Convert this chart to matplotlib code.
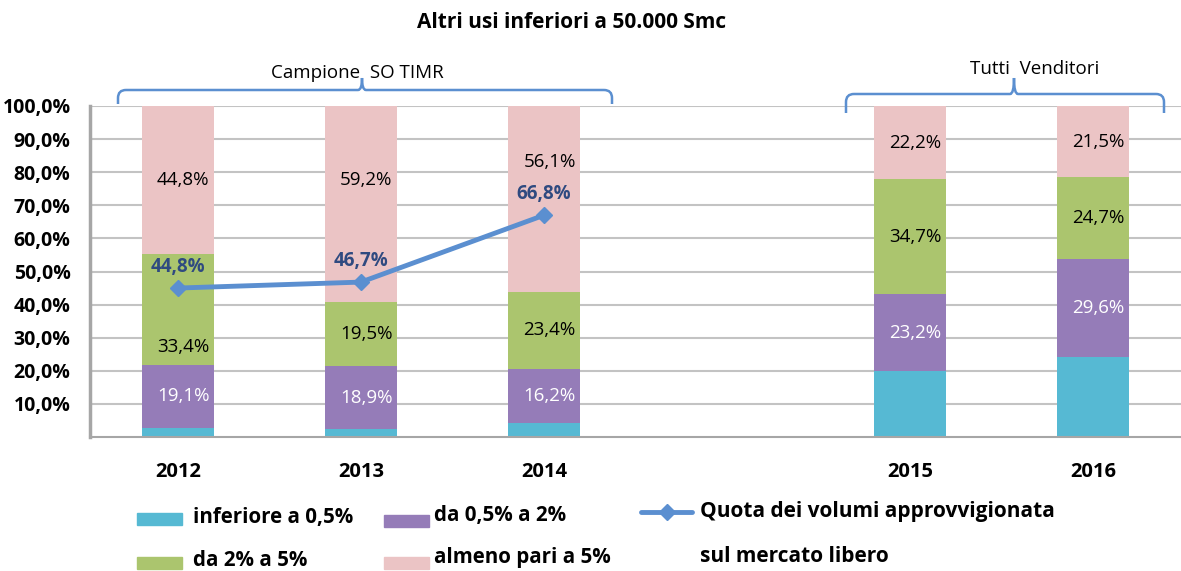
import numpy as np
import matplotlib
matplotlib.use("Agg")
import matplotlib.pyplot as plt
from matplotlib.patches import Rectangle, PathPatch
from matplotlib.path import Path
from matplotlib.lines import Line2D

plt.rcParams["font.family"] = ["Open Sans", "DejaVu Sans"]

# Data
years = ["2012", "2013", "2014", "2015", "2016"]
x_pos = [0, 1, 2, 4, 5]
below_05 = [2.7, 2.4, 4.3, 19.9, 24.2]
from_05_to_2 = [19.1, 18.9, 16.2, 23.2, 29.6]
from_2_to_5 = [33.4, 19.5, 23.4, 34.7, 24.7]
at_least_5 = [44.8, 59.2, 56.1, 22.2, 21.5]
quota_years = [0, 1, 2]
quota_libero = [44.8, 46.7, 66.8]
quota_plot = [45.0, 46.8, 67.0]

COLORS = {
    "cyan": "#56b9d3",
    "purple": "#957cb8",
    "green": "#abc56e",
    "pink": "#ebc4c5",
    "line": "#5b8fd0",
    "line_label": "#2f4a80",
    "grid": "#c3c3c3",
    "brace": "#5b8fd0",
}

W, H = 1181, 571
fig = plt.figure(figsize=(W / 100, H / 100), dpi=100)
ax = fig.add_axes([90 / W, 1 - 437 / H, 1 - 90 / W, (437 - 106) / H])

series = [
    (below_05, COLORS["cyan"], None),
    (from_05_to_2, COLORS["purple"], "white"),
    (from_2_to_5, COLORS["green"], "black"),
    (at_least_5, COLORS["pink"], "black"),
]
# label positions moved away from the line (segment index, bar index) -> y
label_override = {(2, 0): 27.2, (3, 1): 77.6, (3, 2): 83.0}

bottom = np.zeros(len(years))
for si, (vals, color, tcolor) in enumerate(series):
    vals = np.array(vals)
    ax.bar(x_pos, vals, width=0.39, bottom=bottom, color=color, zorder=2)
    if tcolor is not None:
        for i, v in enumerate(vals):
            y = label_override.get((si, i), bottom[i] + v / 2)
            ax.text(x_pos[i] + 0.03, y, f"{v:.1f}%".replace(".", ","),
                    ha="center", va="center", fontsize=13.5, color=tcolor, zorder=4)
    bottom += vals

ax.plot(quota_years, quota_plot, color=COLORS["line"], linewidth=3.5,
        marker="D", markersize=8, markeredgecolor=COLORS["line"], zorder=3)
for xi, yi, v in zip(quota_years, quota_plot, quota_libero):
    ax.text(xi, yi + 6.5, f"{v:.1f}%".replace(".", ","), ha="center", va="center",
            fontsize=13.5, fontweight="bold", color=COLORS["line_label"], zorder=5)

ax.set_xlim(-0.48, 5.48)
ax.set_ylim(0, 100)
ax.set_yticks(np.arange(10, 101, 10))
ax.set_yticklabels([f"{v:.1f}%".replace(".", ",") for v in np.arange(10, 101, 10)],
                   fontsize=14, fontweight="bold")
ax.set_xticks(x_pos)
ax.set_xticklabels(years, fontsize=14.5, fontweight="bold")
ax.tick_params(axis="both", length=0)
ax.tick_params(axis="x", pad=18)
ax.tick_params(axis="y", pad=14)
ax.yaxis.grid(True, color=COLORS["grid"], linewidth=1.5, zorder=0)
ax.set_axisbelow(True)
for s in ["top", "right"]:
    ax.spines[s].set_visible(False)
ax.spines["left"].set_color("#a6a6a6")
ax.spines["left"].set_linewidth(2.5)
ax.spines["bottom"].set_color("#a6a6a6")
ax.spines["bottom"].set_linewidth(1.5)

# overlay in pixel coordinates for title, braces and legend
ov = fig.add_axes([0, 0, 1, 1], zorder=10)
ov.set_xlim(0, W)
ov.set_ylim(H, 0)
ov.axis("off")
ov.patch.set_alpha(0)

ov.text(572, 22, "Altri usi inferiori a 50.000 Smc", ha="center", va="center",
        fontsize=15, fontweight="bold")


def brace(x0, x1, xm, y_end, y_h, y_tip, r=8):
    verts = [
        (x0, y_end), (x0, y_h + r), (x0, y_h), (x0 + r, y_h),
        (xm - 4, y_h), (xm, y_h), (xm, y_tip),
        (xm, y_h), (xm + 4, y_h),
        (x1 - r, y_h), (x1, y_h), (x1, y_h + r), (x1, y_end),
    ]
    codes = [
        Path.MOVETO, Path.LINETO, Path.CURVE3, Path.CURVE3,
        Path.LINETO, Path.CURVE3, Path.CURVE3,
        Path.CURVE3, Path.CURVE3,
        Path.LINETO, Path.CURVE3, Path.CURVE3, Path.LINETO,
    ]
    ov.add_patch(PathPatch(Path(verts, codes), fill=False,
                           edgecolor=COLORS["brace"], linewidth=1.8))


brace(118, 612, 362, 104, 90, 78)
brace(846, 1164, 1014, 113, 94, 78)
ov.text(357, 73, "Campione  SO TIMR", ha="center", va="center", fontsize=13.5)
ov.text(1035, 69, "Tutti  Venditori", ha="center", va="center", fontsize=13.5)

# legend
legend_items = [
    (137, 513, COLORS["cyan"], 193, 518, "inferiore a 0,5%"),
    (384, 515, COLORS["purple"], 434, 515, "da 0,5% a 2%"),
    (137, 557, COLORS["green"], 193, 561, "da 2% a 5%"),
    (384, 557, COLORS["pink"], 434, 558, "almeno pari a 5%"),
]
for px, py, color, tx, ty, label in legend_items:
    ov.add_patch(Rectangle((px, py), 45, 12, color=color))
    ov.text(tx, ty, label, ha="left", va="center", fontsize=14.8, fontweight="bold")

ov.add_line(Line2D([641, 692], [512, 512], color=COLORS["line"], linewidth=3.5,
                   solid_capstyle="round"))
ov.add_line(Line2D([667], [512], color=COLORS["line"], marker="D", markersize=8))
ov.text(700, 512, "Quota dei volumi approvvigionata", ha="left", va="center",
        fontsize=15, fontweight="bold")
ov.text(700, 557, "sul mercato libero", ha="left", va="center",
        fontsize=15, fontweight="bold")

fig.savefig("out.png", dpi=100, facecolor="white")
